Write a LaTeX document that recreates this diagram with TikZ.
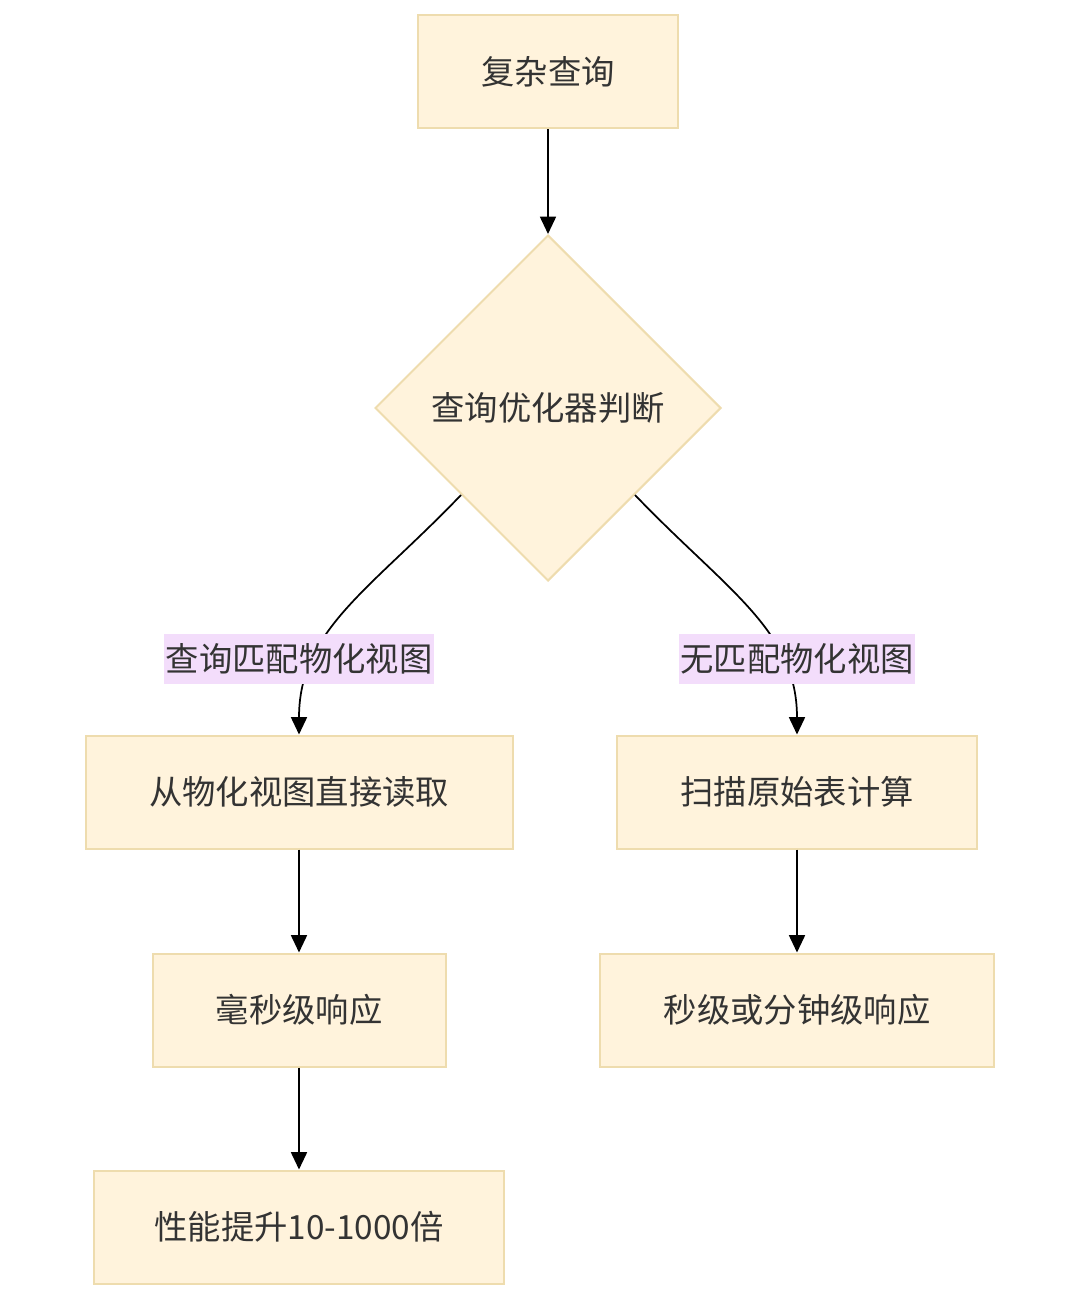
\documentclass[tikz,border=0pt]{standalone}
\usepackage{fontspec}
\newfontfamily\cjk{Noto Sans CJK SC}
\usepackage{tikz}
\usetikzlibrary{shapes.geometric, arrows.meta, positioning, calc}

\definecolor{boxfill}{HTML}{FFF3DC}
\definecolor{boxline}{HTML}{EEDCAE}
\definecolor{lblfill}{HTML}{F3DDFB}
\definecolor{txt}{HTML}{333333}

\begin{document}
\begin{tikzpicture}[x=0.75pt, y=-0.75pt,
    font=\cjk\fontsize{25pt}{30pt}\selectfont, text=txt,
    box/.style={draw=boxline, fill=boxfill, line width=1.5pt, minimum height=84.75pt, inner sep=0pt},
    decide/.style={diamond, aspect=1, draw=boxline, fill=boxfill, line width=1.5pt, minimum size=259.5pt, inner sep=0pt},
    lbl/.style={fill=lblfill, minimum height=37.5pt, inner xsep=1pt, inner ysep=0pt},
    arr/.style={-{Triangle[length=13pt, width=12pt]}, line width=1.3pt, black}]
    % Frame
    \useasboundingbox (0,0) rectangle (1080,1301);

    % Nodes
    \node[box, minimum width=195pt] (query) at (548,72) {复杂查询};
    \node[decide] (judge) at (548,408) {查询优化器判断};
    \node[box, minimum width=320.25pt] (readmv) at (299,792) {从物化视图直接读取};
    \node[box, minimum width=270pt] (scan) at (797,792) {扫描原始表计算};
    \node[box, minimum width=219.75pt] (fast) at (299,1010) {毫秒级响应};
    \node[box, minimum width=295.5pt] (slow) at (797,1010) {秒级或分钟级响应};
    \node[box, minimum width=307.5pt] (gain) at (299,1227) {性能提升10-1000倍};

    % Edges
    \draw[arr] (query) -- (judge);
    \draw[arr] (judge.south west) .. controls (370,590) and (299,630) .. (readmv.north);
    \draw[arr] (judge.south east) .. controls (726,590) and (797,630) .. (scan.north);
    \draw[arr] (readmv) -- (fast);
    \draw[arr] (fast) -- (gain);
    \draw[arr] (scan) -- (slow);

    % Labels
    \node[lbl] (hit) at (299,659) {查询匹配物化视图};
    \node[lbl] (miss) at (797,659) {无匹配物化视图};
\end{tikzpicture}
\end{document}
